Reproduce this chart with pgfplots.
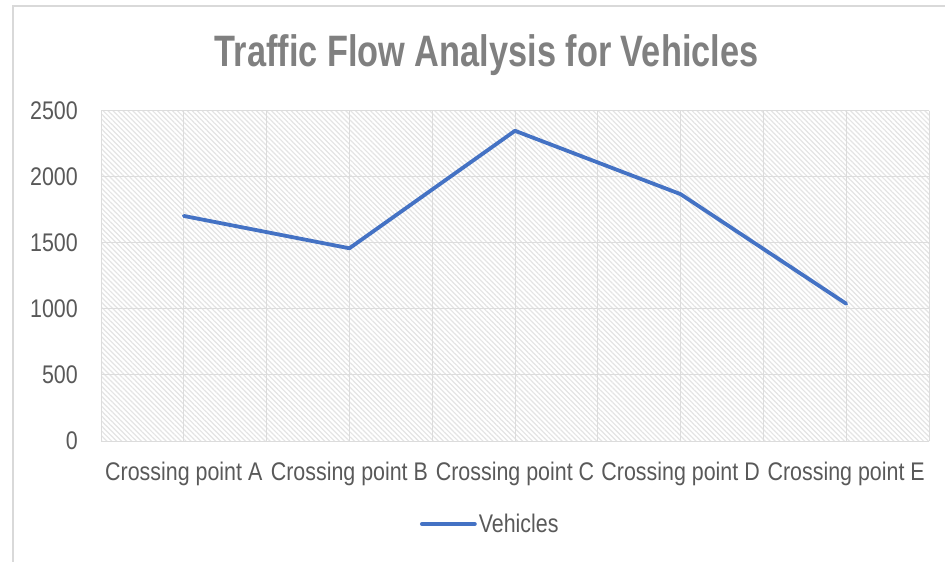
\documentclass[border=0pt]{standalone}
\usepackage{fontspec}
\setmainfont{Liberation Sans}[FakeStretch=0.84]
\newfontfamily\titlefont{Liberation Sans}[FakeStretch=0.78]
\usepackage{pgfplots}
\pgfplotsset{compat=1.18}
\usetikzlibrary{patterns.meta}
\definecolor{lineblue}{HTML}{4472C4}
\definecolor{txt}{HTML}{595959}
\definecolor{ttl}{HTML}{808080}
\definecolor{gridc}{HTML}{DCDCDC}
\definecolor{hatch}{HTML}{E4E4E4}
\definecolor{framec}{HTML}{D9D9D9}
\begin{document}
\begin{tikzpicture}[x=1pt,y=1pt]
\path[use as bounding box] (0,0) rectangle (945,562);
\draw[framec, line width=2pt] (13,0) -- (13,556) -- (945,556);
\node[text=ttl, font=\titlefont\bfseries\fontsize{44}{50}\selectfont, inner sep=0pt] at (486.5,507) {Traffic Flow Analysis for Vehicles};
\begin{axis}[
  at={(101pt,121pt)}, anchor=south west, scale only axis,
  width=828pt, height=330pt,
  xmin=-0.5, xmax=4.5, ymin=0, ymax=2500,
  xtick={0,1,2,3,4},
  xticklabels={Crossing point A,Crossing point B,Crossing point C,Crossing point D,Crossing point E},
  minor xtick={-0.5,0.5,1.5,2.5,3.5,4.5},
  ytick={0,500,1000,1500,2000,2500},
  xmajorgrids, xminorgrids, ymajorgrids,
  major grid style={gridc, line width=1pt},
  minor grid style={gridc, line width=1pt},
  major tick length=0pt, minor tick length=0pt,
  axis line style={draw=none},
  ticklabel style={font=\fontsize{25.5}{30}\selectfont, text=txt},
  /pgf/number format/assume math mode=true,
  /pgf/number format/1000 sep={},
  yticklabel style={anchor=east, inner sep=0pt, xshift=-23pt},
  xticklabel style={anchor=north, inner sep=0pt, yshift=-21pt},
  axis background/.style={fill=white, postaction={pattern={Lines[angle=-45,distance=3.5pt,line width=1.2pt]}, pattern color=hatch}},
  legend style={draw=none, fill=none, at={(0.385,-0.2515)}, anchor=west, inner sep=0pt,
    font=\fontsize{25.5}{30}\selectfont, text=txt},
  legend image code/.code={\draw[#1] (0pt,0pt) -- (53pt,0pt);},
]
\addplot[lineblue, line width=3.8pt, line join=round, line cap=round]
  coordinates {(0,1705) (1,1460) (2,2350) (3,1870) (4,1040)};
\addlegendentry{Vehicles}
\end{axis}
\end{tikzpicture}
\end{document}
